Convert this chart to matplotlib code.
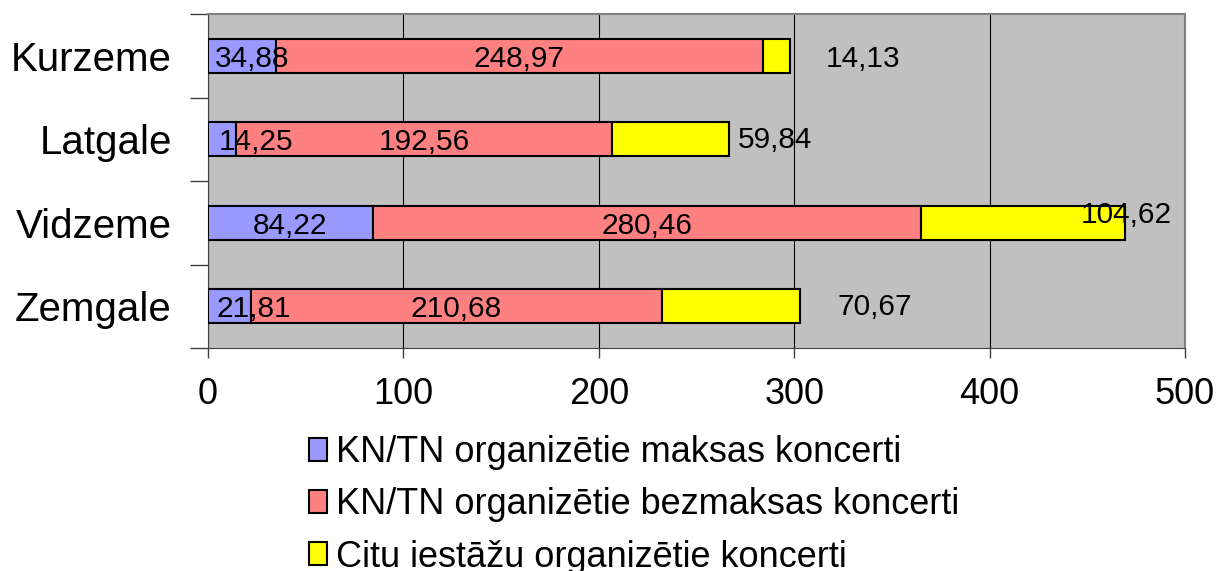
import numpy as np
import matplotlib.pyplot as plt

plt.rcParams['font.family'] = ['Liberation Sans', 'DejaVu Sans']

regions = ["Kurzeme", "Latgale", "Vidzeme", "Zemgale"]
paid = [34.88, 14.25, 84.22, 21.81]
free = [248.97, 192.56, 280.46, 210.68]
other = [14.13, 59.84, 104.62, 70.67]
# label positions (x value, y shift)
paid_label_x = [22.5, 24.5, 42.1, 23.5]
other_label_x = [335, 290, 470, 341]
other_label_dy = [0.0, -0.03, -0.13, -0.03]

series_names = ["KN/TN organizētie maksas koncerti",
                "KN/TN organizētie bezmaksas koncerti",
                "Citu iestāžu organizētie koncerti"]
colors = ["#9999FF", "#FF8080", "#FFFF00"]

fig = plt.figure(figsize=(12.2, 5.71), dpi=100)
ax = fig.add_axes([208/1220, 1 - 348/571, 977/1220, 334/571])
ax.set_facecolor("#C0C0C0")

y = np.arange(len(regions))
h = 0.41
paid = np.array(paid)
free = np.array(free)
other = np.array(other)

b1 = ax.barh(y, paid, height=h, color=colors[0], edgecolor="black", linewidth=1.5, label=series_names[0], zorder=3)
b2 = ax.barh(y, free, left=paid, height=h, color=colors[1], edgecolor="black", linewidth=1.5, label=series_names[1], zorder=3)
b3 = ax.barh(y, other, left=paid + free, height=h, color=colors[2], edgecolor="black", linewidth=1.5, label=series_names[2], zorder=3)

def fmt(v):
    return f"{v:.2f}".replace(".", ",")

for i in range(len(regions)):
    ax.text(paid_label_x[i], y[i], fmt(paid[i]), ha="center", va="center_baseline", fontsize=21.5, zorder=5)
    ax.text(paid[i] + free[i] / 2, y[i], fmt(free[i]), ha="center", va="center_baseline", fontsize=21.5, zorder=5)
    ax.text(other_label_x[i], y[i] + other_label_dy[i], fmt(other[i]), ha="center", va="center_baseline", fontsize=21.5, zorder=5)

ax.set_xlim(0, 500)
ax.set_ylim(len(regions) - 0.5, -0.5)
ax.set_xticks([0, 100, 200, 300, 400, 500])
ax.tick_params(axis="x", labelsize=26, length=7, width=1, pad=14, color="#404040")
ax.set_yticks(y)
ax.set_yticklabels(regions)
ax.tick_params(axis="y", which="major", length=0, pad=26, labelsize=29)
ax.set_yticks(np.arange(-0.5, len(regions), 1), minor=True)
ax.tick_params(axis="y", which="minor", length=13, width=1, color="#404040")

ax.grid(axis="x", color="black", linewidth=0.8, zorder=1)
for s in ["top", "right"]:
    ax.spines[s].set_color("#808080")
    ax.spines[s].set_linewidth(1.5)
ax.spines["left"].set_color("#404040")
ax.spines["bottom"].set_color("#404040")

fig.legend(handles=[b1, b2, b3], loc="upper left", bbox_to_anchor=(309/1220, 1 - 435/571),
           frameon=False, fontsize=26, handlelength=0.5, handleheight=0.6,
           handletextpad=0.25, labelspacing=0.48, borderpad=0, borderaxespad=0)

fig.savefig("out.png", dpi=100)
